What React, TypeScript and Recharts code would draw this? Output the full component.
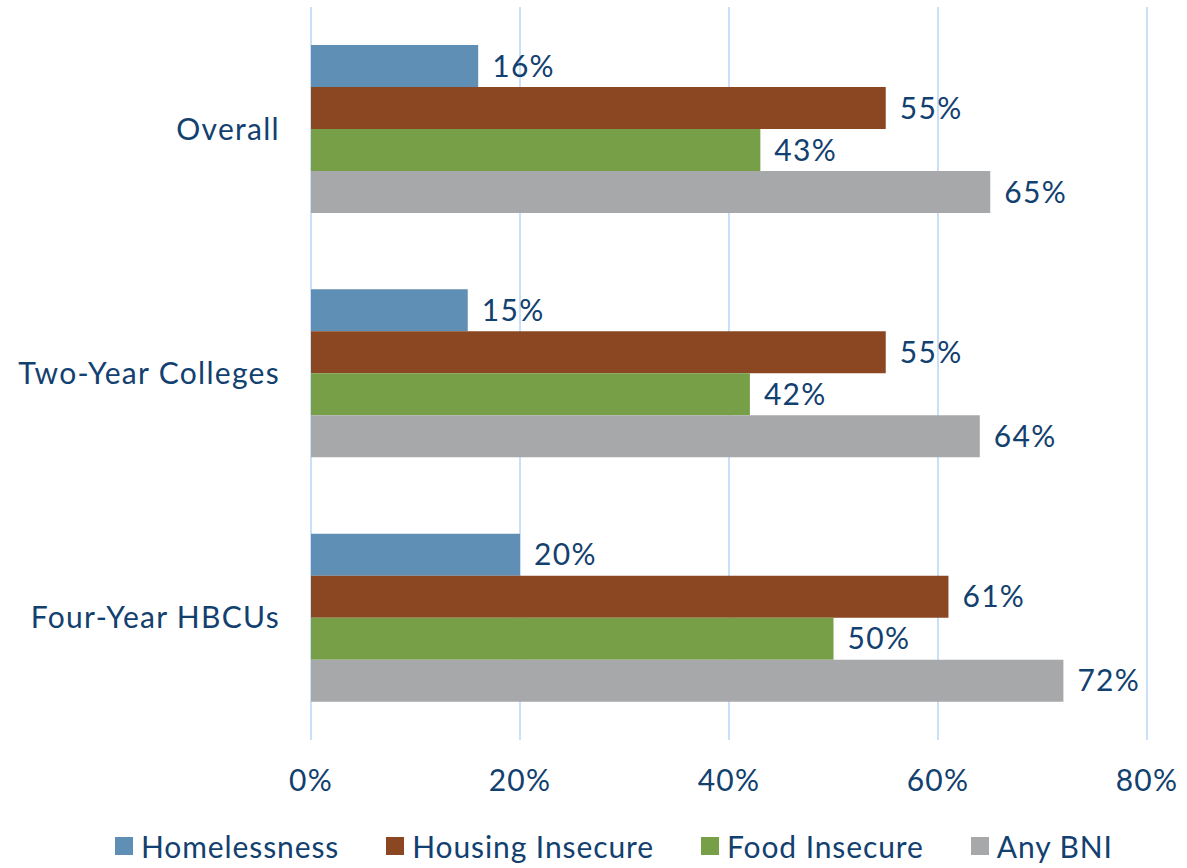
import { Bar, BarChart, CartesianGrid, LabelList, Legend, XAxis, YAxis } from "recharts";

// groups shown top to bottom
const categories = ["Overall", "Two-Year Colleges", "Four-Year HBCUs"];
const homelessness = [16, 15, 20];
const housingInsecure = [55, 55, 61];
const foodInsecure = [43, 42, 50];
const anyBni = [65, 64, 72];
const xTicks = [0, 20, 40, 60, 80];

const TEXT = "#12406F";
const FONT = "Lato, 'Open Sans', sans-serif";

const series = [
  { key: "homelessness", name: "Homelessness", color: "#5F8FB5" },
  { key: "housing", name: "Housing Insecure", color: "#8B4722" },
  { key: "food", name: "Food Insecure", color: "#779F48" },
  { key: "any", name: "Any BNI", color: "#A7A8AA" },
];

const data = categories.map((name, i) => ({
  name,
  homelessness: homelessness[i],
  housing: housingInsecure[i],
  food: foodInsecure[i],
  any: anyBni[i],
}));

const tickStyle = { fill: TEXT, fontSize: 30, fontFamily: FONT, letterSpacing: 1.3 };

function LegendBox() {
  return (
    <div style={{ height: 58, display: "flex", alignItems: "flex-start", paddingLeft: 115, gap: 47, fontFamily: FONT }}>
      {series.map((s) => (
        <div key={s.key} style={{ display: "flex", alignItems: "center", marginTop: 19 }}>
          <span style={{ width: 18, height: 18, background: s.color, marginRight: 8, display: "inline-block" }} />
          <span style={{ fontSize: 30, color: TEXT, lineHeight: "34px", letterSpacing: 0.9 }}>{s.name}</span>
        </div>
      ))}
    </div>
  );
}

export default function App() {
  return (
    <div style={{ position: "absolute", left: 0, top: 0, background: "#fff" }}>
      <BarChart
        width={1187}
        height={868}
        data={data}
        layout="vertical"
        barSize={42}
        barGap={0}
        margin={{ top: 7, right: 40, left: 0, bottom: 0 }}
      >
        <CartesianGrid stroke="#C8E1F9" strokeWidth={2} horizontal={false} />
        <XAxis
          type="number"
          domain={[0, 80]}
          ticks={xTicks}
          tickFormatter={(v) => `${v}%`}
          axisLine={false}
          tickLine={false}
          tickSize={0}
          tickMargin={30}
          height={70}
          tick={tickStyle}
        />
        <YAxis
          type="category"
          dataKey="name"
          width={311}
          axisLine={false}
          tickLine={false}
          tickSize={0}
          tickMargin={31}
          tick={tickStyle}
        />
        <Legend verticalAlign="bottom" content={() => <LegendBox />} wrapperStyle={{ left: 0, width: 1187 }} />
        {series.map((s) => (
          <Bar key={s.key} dataKey={s.key} name={s.name} fill={s.color} isAnimationActive={false}>
            <LabelList
              dataKey={s.key}
              position="right"
              offset={14}
              formatter={(v: number) => `${v}%`}
              style={tickStyle}
            />
          </Bar>
        ))}
      </BarChart>
    </div>
  );
}
